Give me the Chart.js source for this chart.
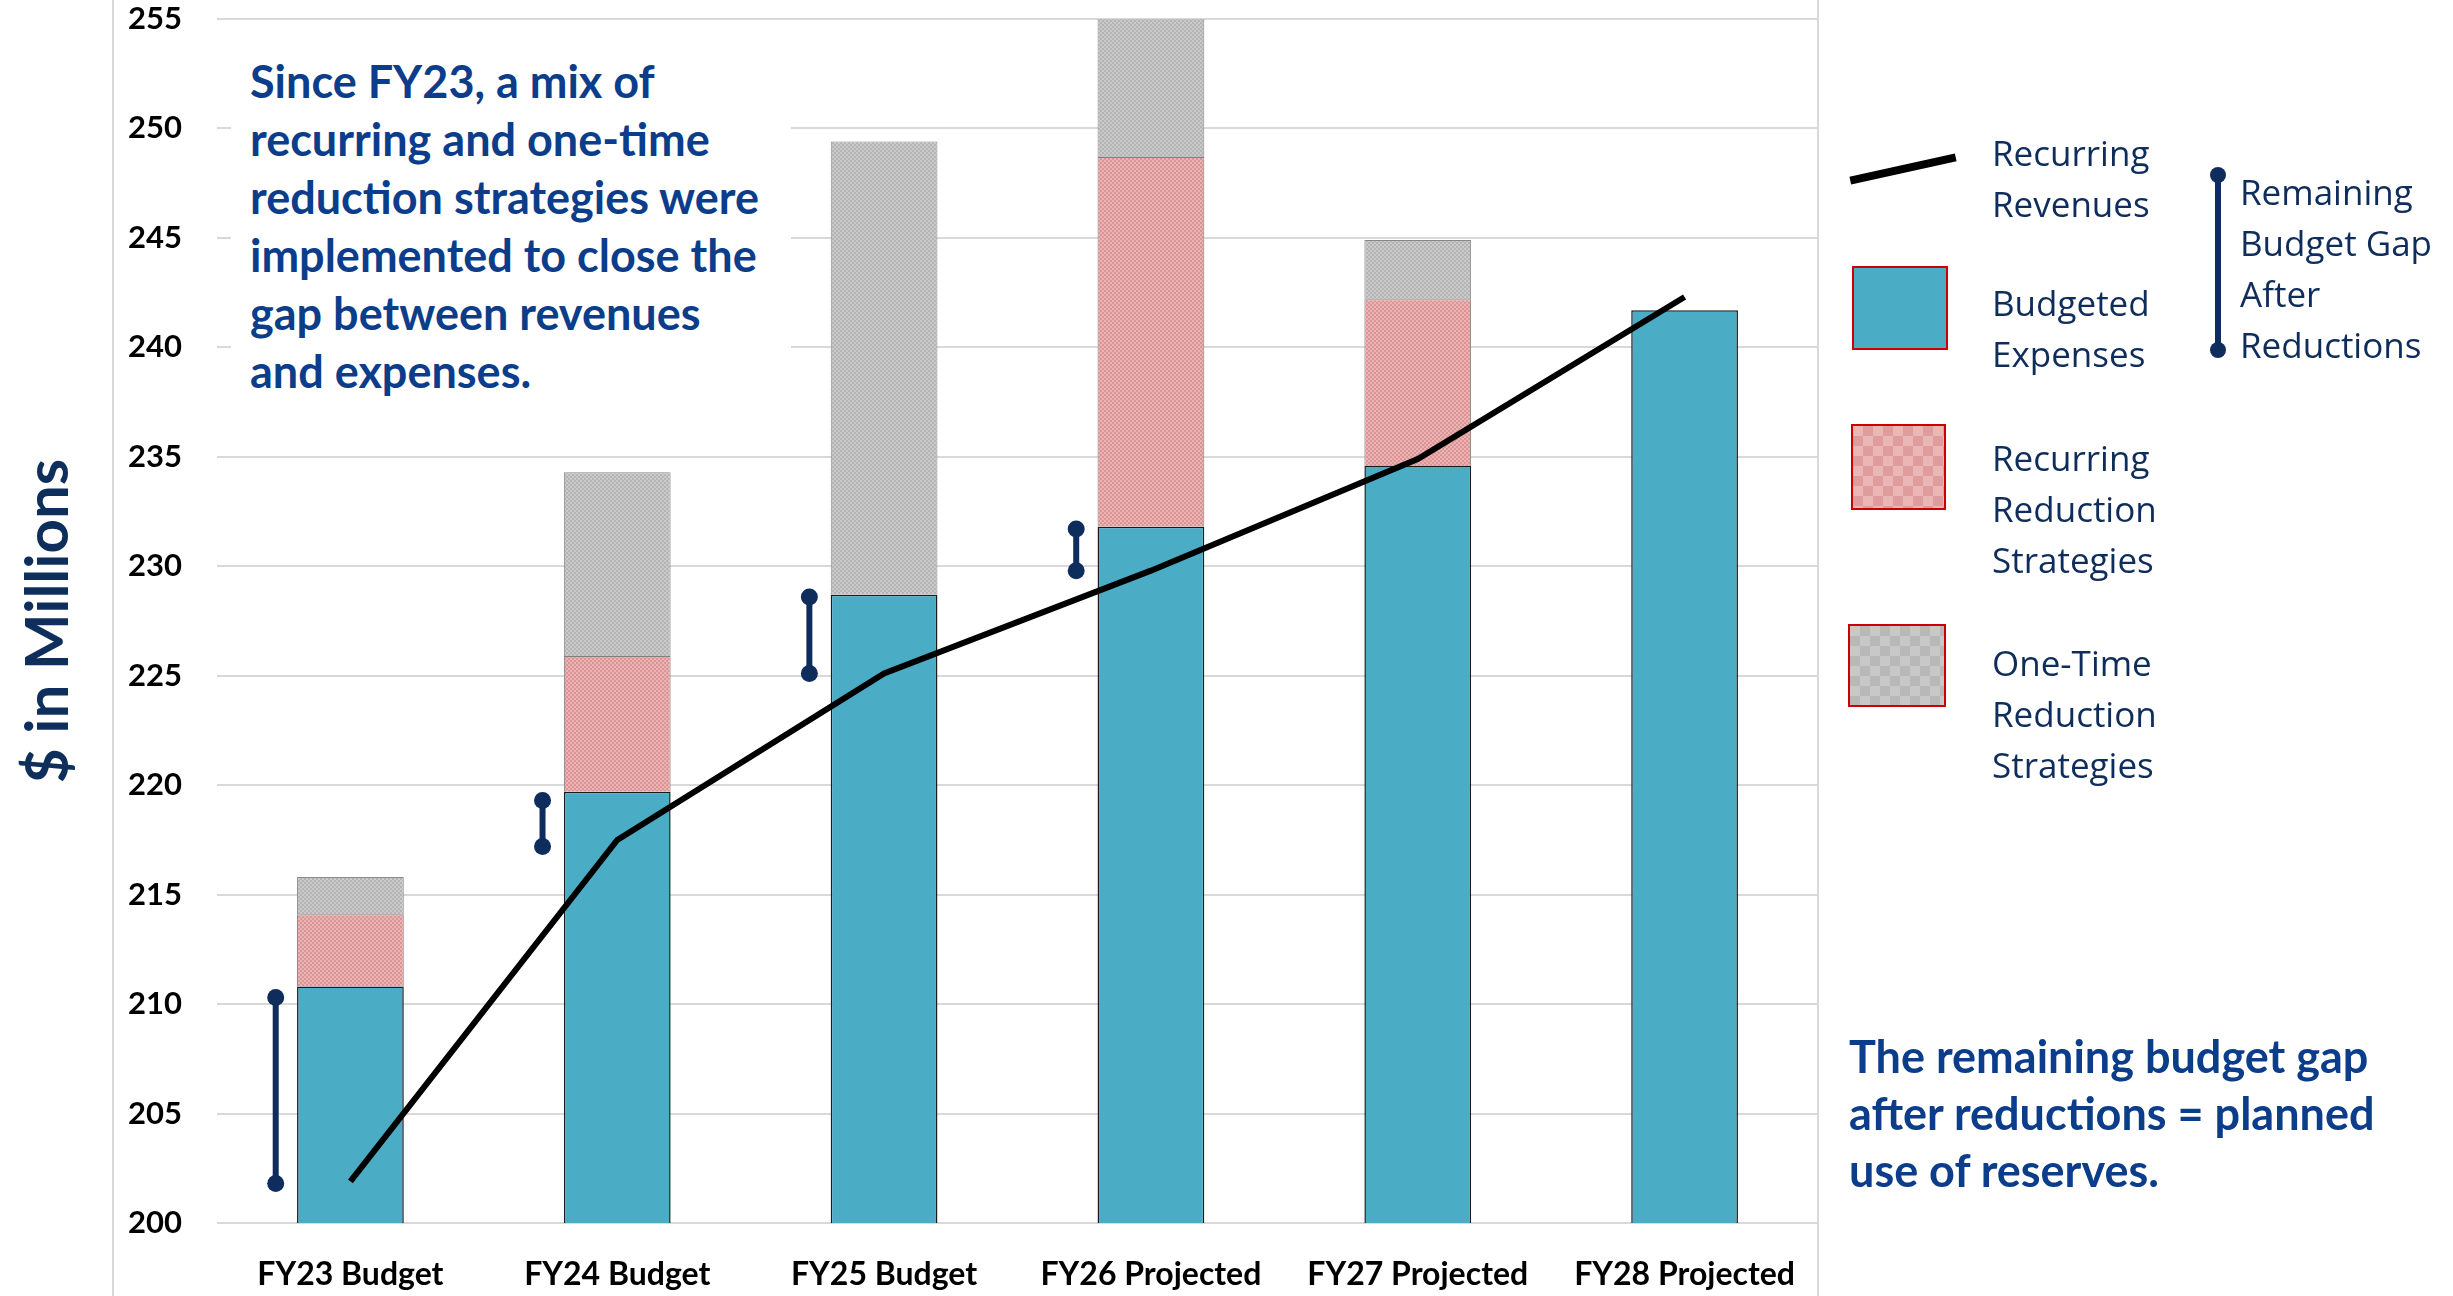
<!DOCTYPE html>
<html>
<head>
<meta charset="utf-8">
<script src="https://cdn.jsdelivr.net/npm/chart.js@4.4.1/dist/chart.umd.min.js"></script>
<style>
	html, body { margin: 0; padding: 0; background: #fff; }
	#wrap { position: relative; width: 2453px; height: 1296px; overflow: hidden; background: #fff; }
	#chart { position: absolute; left: 0; top: 0; }
	.vline { position: absolute; top: 0; width: 2px; height: 1296px; background: #d9d9d9; }
	.note { position: absolute; font-family: Lato, sans-serif; font-weight: 700; color: #0c3d8a; font-size: 45px; line-height: 58px; white-space: nowrap; box-sizing: border-box; }
	.legend-text { position: absolute; font-family: 'Open Sans', sans-serif; color: #0f2d5a; font-size: 35px; line-height: 51px; white-space: nowrap; }
	.swatch { position: absolute; box-sizing: border-box; border: 2px solid #cc0000; }
	.dot { position: absolute; width: 16px; height: 16px; border-radius: 50%; background: #0e2d5c; }
</style>
</head>
<body>
<div id="wrap">
	<div class="vline" style="left:112px"></div>
	<div class="vline" style="left:1817px"></div>
	<canvas id="chart" width="2453" height="1296"></canvas>

	<div class="note" style="left:231px; top:40px; width:560px; height:385px; padding:12px 0 0 19px; background:#fff;">
		Since FY23, a mix of<br>recurring and one-time<br>reduction strategies were<br>implemented to close the<br>gap between revenues<br>and expenses.
	</div>

	<div class="note" style="left:1849px; top:1028px; line-height:57px;">
		The remaining budget gap<br>after reductions = planned<br>use of reserves.
	</div>

	<div style="position:absolute; left:1849px; top:165px; width:108px; height:8px; background:#000; transform:rotate(-12.5deg); transform-origin:center;"></div>
	<div class="legend-text" style="left:1992px; top:127px;">Recurring<br>Revenues</div>

	<div class="swatch" style="left:1852px; top:266px; width:96px; height:84px; background:#4bacc6;"></div>
	<div class="legend-text" style="left:1992px; top:277px;">Budgeted<br>Expenses</div>

	<div class="swatch" style="left:1851px; top:424px; width:95px; height:86px; background:repeating-conic-gradient(#df9c9c 0 25%, #ebb6b6 0 50%) 0 0 / 20px 20px;"></div>
	<div class="legend-text" style="left:1992px; top:432px;">Recurring<br>Reduction<br>Strategies</div>

	<div class="swatch" style="left:1848px; top:624px; width:98px; height:83px; background:repeating-conic-gradient(#b8b8b8 0 25%, #c8c8c8 0 50%) 0 0 / 20px 20px;"></div>
	<div class="legend-text" style="left:1992px; top:637px;">One-Time<br>Reduction<br>Strategies</div>

	<div style="position:absolute; left:2215px; top:175px; width:6px; height:175px; background:#0e2d5c;"></div>
	<div class="dot" style="left:2210px; top:167px;"></div>
	<div class="dot" style="left:2210px; top:342px;"></div>
	<div class="legend-text" style="left:2240px; top:166px;">Remaining<br>Budget Gap<br>After<br>Reductions</div>
</div>

<script>
const categories = ['FY23 Budget', 'FY24 Budget', 'FY25 Budget', 'FY26 Projected', 'FY27 Projected', 'FY28 Projected'];
const budgetedExpenses = [210.8, 219.7, 228.7, 231.8, 234.6, 241.7];
const recurringReductions = [3.3, 6.2, null, 16.9, 7.6, null];
const oneTimeReductions = [1.7, 8.4, 20.7, 6.8, 2.7, null];
const recurringRevenues = [201.9, 217.5, 225.1, 229.8, 234.9, 242.3];
const gapLow = [201.8, 217.2, 225.1, 229.8, null, null];
const gapHigh = [210.3, 219.3, 228.6, 231.7, null, null];
const yMin = 200;
const yMax = 255;
const yStep = 5;

// the gap markers sit a little left of each bar
const gapShift = -0.28;

const canvas = document.getElementById('chart');
const ctx = canvas.getContext('2d');

function makeChecker(colorA, colorB, cell) {
	const tile = document.createElement('canvas');
	tile.width = cell * 2;
	tile.height = cell * 2;
	const t = tile.getContext('2d');
	t.fillStyle = colorA;
	t.fillRect(0, 0, cell * 2, cell * 2);
	t.fillStyle = colorB;
	t.fillRect(0, 0, cell, cell);
	t.fillRect(cell, cell, cell, cell);
	return ctx.createPattern(tile, 'repeat');
}

const gapPoints = [];
categories.forEach((label, i) => {
	if (gapLow[i] === null) {
		return;
	}
	gapPoints.push({ x: i + gapShift, y: gapLow[i] });
	gapPoints.push({ x: i + gapShift, y: gapHigh[i] });
	gapPoints.push({ x: i + gapShift, y: null });
});

const barCommon = {
	barPercentage: 0.4,
	categoryPercentage: 1,
	grouped: false,
	stack: 'bars',
	order: 1
};

new Chart(ctx, {
	type: 'bar',
	data: {
		labels: categories,
		datasets: [
			{
				type: 'line',
				label: 'Recurring Revenues',
				data: recurringRevenues,
				borderColor: '#000',
				borderWidth: 6,
				pointRadius: 0,
				tension: 0,
				stack: 'revenues',
				order: 0
			},
			{
				type: 'line',
				label: 'Remaining Budget Gap After Reductions',
				data: gapPoints,
				xAxisID: 'x2',
				borderColor: '#0e2d5c',
				borderWidth: 6,
				pointRadius: 8.5,
				pointBackgroundColor: '#0e2d5c',
				pointBorderWidth: 0,
				spanGaps: false,
				stack: 'gap',
				order: 0
			},
			Object.assign({
				label: 'Budgeted Expenses',
				data: budgetedExpenses,
				backgroundColor: '#4bacc6',
				borderColor: '#1a1a1a',
				borderWidth: 1.5
			}, barCommon),
			Object.assign({
				label: 'Recurring Reduction Strategies',
				data: recurringReductions,
				backgroundColor: makeChecker('#dc9494', '#eab4b4', 2),
				borderColor: '#808080',
				borderWidth: 1
			}, barCommon),
			Object.assign({
				label: 'One-Time Reduction Strategies',
				data: oneTimeReductions,
				backgroundColor: makeChecker('#b4b4b4', '#cacaca', 2),
				borderColor: '#8a8a8a',
				borderWidth: 1
			}, barCommon)
		]
	},
	options: {
		responsive: false,
		animation: false,
		devicePixelRatio: 1,
		layout: { padding: { left: 0, right: 635, top: 19, bottom: 0 } },
		plugins: {
			legend: { display: false },
			tooltip: { enabled: false }
		},
		scales: {
			x: {
				stacked: true,
				grid: { display: false, drawTicks: false },
				border: { display: false },
				ticks: { font: { family: 'Lato', weight: 'bold', size: 32 }, color: '#000', padding: 32 },
				afterFit: (scale) => { scale.height = 73; }
			},
			x2: {
				type: 'linear',
				display: false,
				offset: false,
				min: -0.5,
				max: 5.5
			},
			y: {
				stacked: true,
				min: yMin,
				max: yMax,
				ticks: { stepSize: yStep, font: { family: 'Lato', weight: 'bold', size: 31 }, color: '#000', padding: 0 },
				grid: { color: '#d9d9d9', lineWidth: 2, drawTicks: true, tickLength: 35, tickColor: 'rgba(0,0,0,0)' },
				border: { display: false },
				title: {
					display: true,
					text: '$ in Millions',
					color: '#0e2e5b',
					font: { family: 'Lato', weight: 'bold', size: 60 },
					padding: { top: 13, bottom: 0 }
				},
				afterFit: (scale) => { scale.width = 217; }
			}
		}
	}
});
</script>
</body>
</html>
